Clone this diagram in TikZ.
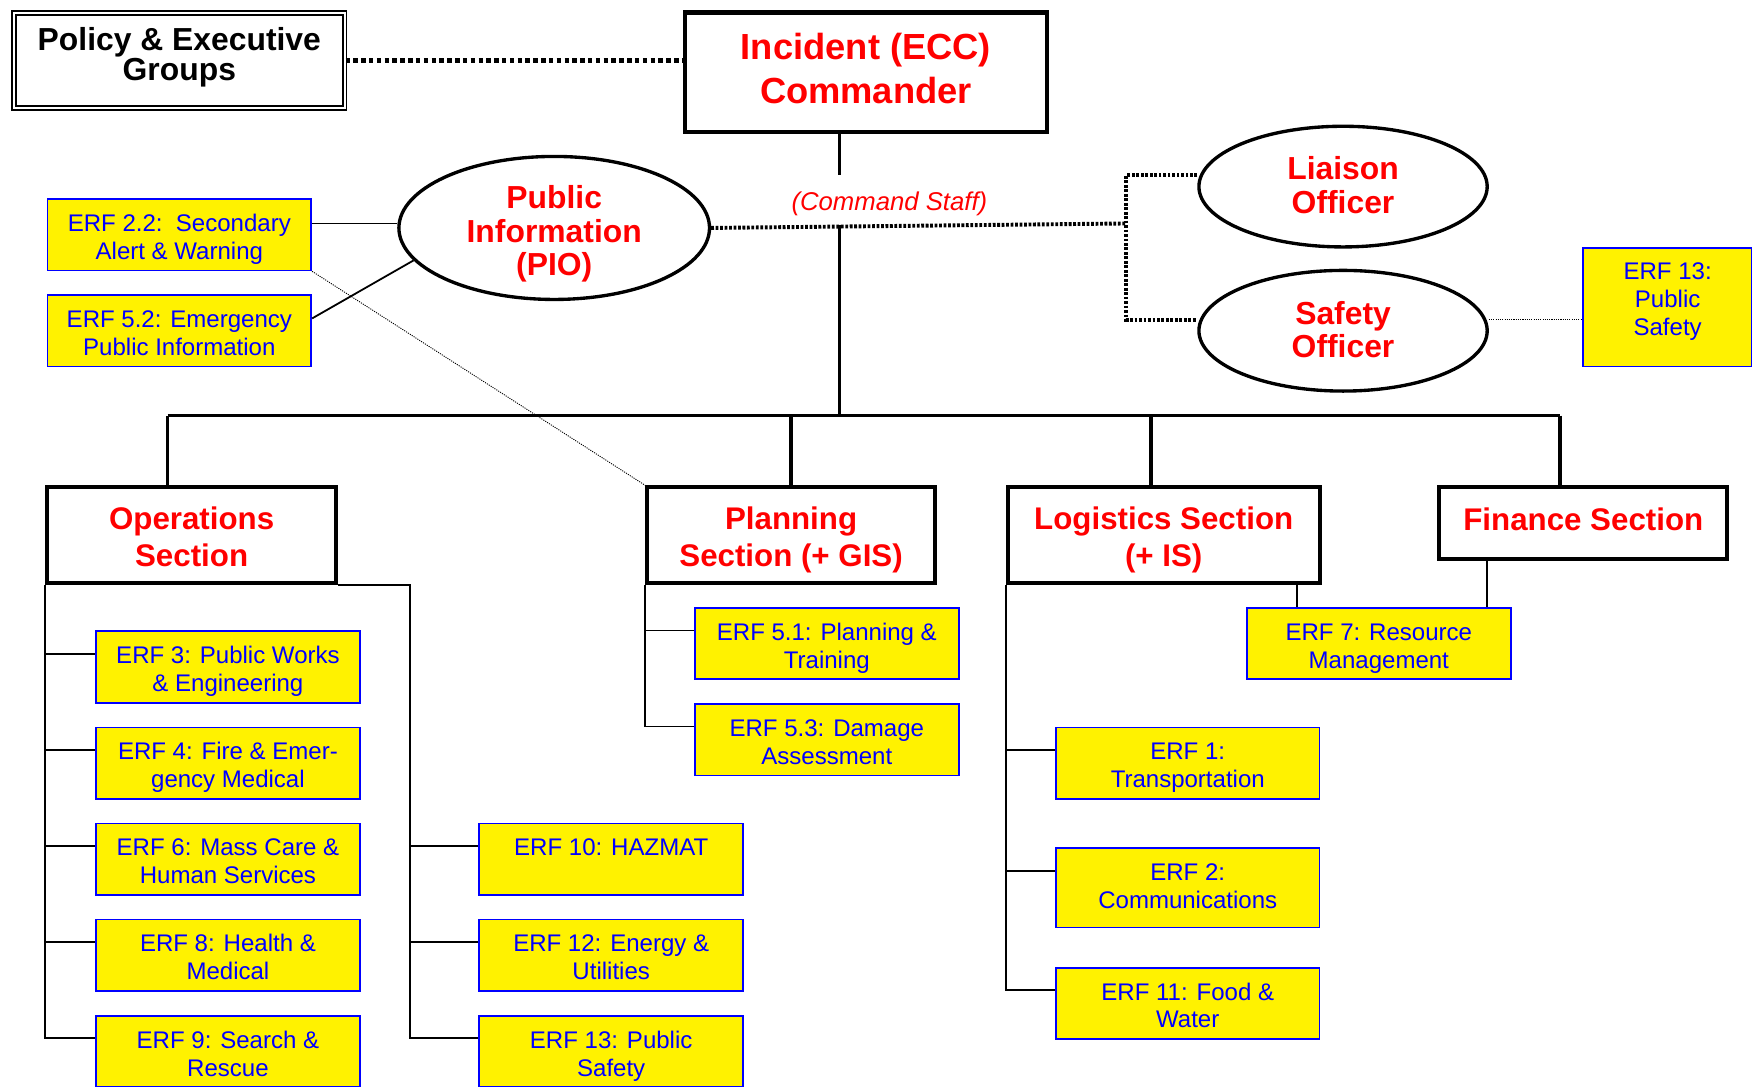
\documentclass[tikz,border=0pt]{standalone}
\usepackage{fontspec}
\setmainfont{Liberation Sans}
\usetikzlibrary{shapes.geometric,calc}
\definecolor{erfblue}{RGB}{0,0,255}
\definecolor{hdrred}{RGB}{255,0,0}
\begin{document}
\begin{tikzpicture}[x=1pt,y=-1pt,
  erf/.style={draw=erfblue, line width=1.6pt, fill=yellow, text=erfblue,
    minimum width=236pt, minimum height=64pt, inner sep=0pt, align=center,
    text height=44pt, text depth=0pt,
    font=\fontsize{21.5}{25}\selectfont},
  section/.style={draw, line width=3.5pt, text=hdrred, inner sep=0pt, align=center,
    text height=56pt, text depth=0pt,
    font=\bfseries\fontsize{28}{33}\selectfont},
  staff/.style={ellipse, draw, line width=3pt, text=hdrred, inner sep=0pt, align=center,
    text depth=0pt, font=\bfseries\fontsize{28.5}{30}\selectfont},
  link/.style={line width=1.6pt},
  bus/.style={line width=3pt},
  staffdots/.style={line width=3.5pt, dash pattern=on 2.5pt off 1.5pt},
  faint/.style={line width=0.8pt, dash pattern=on 1pt off 1pt},
]
\useasboundingbox (0,0) rectangle (1568,972);
\clip (0,0) rectangle (1568,972);
\fill[white] (0,0) rectangle (1568,972);

% top level
\node[draw, double, double distance=2pt, line width=1.5pt, minimum width=296pt,
  minimum height=85pt, inner sep=0pt, align=center, text height=36pt, text depth=0pt,
  font=\bfseries\fontsize{28.5}{27}\selectfont] (policy) at (160.5,54)
  {Policy \& Executive\\Groups};
\node[draw, line width=4pt, minimum width=324pt, minimum height=107pt, inner sep=0pt,
  text=hdrred, align=center, text height=56pt, text depth=0pt,
  font=\bfseries\fontsize{32.5}{39}\selectfont]
  (cmd) at (775,64.5) {Incident (ECC)\\Commander};

% command staff
\node[staff, minimum width=278pt, minimum height=128pt, text height=86pt] (pio) at (496,204) {Public\\Information\\(PIO)};
\node[staff, minimum width=258pt, minimum height=108pt, text height=48pt] (liaison) at (1202,167) {Liaison\\Officer};
\node[staff, minimum width=258pt, minimum height=108pt, text height=48pt] (safety) at (1202,296) {Safety\\Officer};
\node[text=hdrred, font=\itshape\fontsize{23}{27}\selectfont] (cstaff) at (796,182) {(Command Staff)};

% general staff sections
\node[section, minimum width=259pt, minimum height=86pt] (ops) at (171.5,479) {Operations\\Section};
\node[section, minimum width=258pt, minimum height=86pt] (plan) at (708,479) {Planning\\Section (+ GIS)};
\node[section, minimum width=279pt, minimum height=86pt] (logi) at (1041.5,479) {Logistics Section\\(+ IS)};
\node[section, minimum width=258pt, minimum height=64pt, text height=14pt] (fin) at (1417,468) {Finance Section};

% emergency response functions
\node[erf] (e22) at (160.5,210) {ERF 2.2:\ \ Secondary\\Alert \& Warning};
\node[erf] (e52) at (160.5,296) {ERF 5.2: Emergency\\Public Information};
\node[erf, minimum width=151pt, minimum height=106pt, text height=51pt] (e13s) at (1492.5,275) {ERF 13:\\Public\\Safety};
\node[erf] (e3) at (204,597) {ERF 3: Public Works\\\& Engineering};
\node[erf] (e4) at (204,683) {ERF 4: Fire \& Emer-\\gency Medical};
\node[erf] (e6) at (204,769) {ERF 6: Mass Care \&\\Human Services};
\node[erf] (e8) at (204,855) {ERF 8: Health \&\\Medical};
\node[erf] (e9) at (204,941) {ERF 9: Search \&\\Rescue};
\node[erf] (e10) at (547,769) {ERF 10: HAZMAT\\\strut};
\node[erf] (e12) at (547,855) {ERF 12: Energy \&\\Utilities};
\node[erf] (e13) at (547,941) {ERF 13: Public\\Safety};
\node[erf] (e51) at (740,576) {ERF 5.1: Planning \&\\Training};
\node[erf] (e53) at (740,662) {ERF 5.3: Damage\\Assessment};
\node[erf] (e1) at (1063,683) {ERF 1:\\Transportation};
\node[erf, minimum height=71pt, text height=37pt] (e2) at (1063,794.5) {ERF 2:\\Communications};
\node[erf] (e11) at (1063,898) {ERF 11: Food \&\\Water};
\node[erf] (e7) at (1234,576) {ERF 7: Resource\\Management};

% policy link
\draw[line width=4.5pt, dash pattern=on 4pt off 3pt] (policy.east) -- (policy.east -| cmd.west);

% command trunk and bus
\coordinate (trunk) at (751,372);
\coordinate (staffjoin) at (751,201);
\draw[line width=2.5pt] (trunk |- cmd.south) -- ++(0,37);
\draw[line width=2.5pt] (staffjoin) -- (trunk);
\coordinate (busL) at (150,372);
\coordinate (busR) at (1396,372);
\coordinate (busLog) at (1030,372);
\draw[bus] (busL) -- (busR);
\draw[bus] (busL) -- (busL |- ops.north);
\draw[bus] (trunk -| plan.north) -- (plan.north);
\draw[bus] (busLog) -- (busLog |- logi.north);
\draw[bus] (busR) -- (busR |- fin.north);

% command staff dotted links
\coordinate (staffR) at (1008,200);
\coordinate (liaisonTurn) at (1008,157);
\coordinate (safetyTurn) at (1008,286);
\draw[staffdots] (pio.east) -- (staffR);
\draw[staffdots] (liaison.west |- liaisonTurn) -- (liaisonTurn) -- (safetyTurn) -- (safetyTurn -| safety.west);
\draw[faint] ([yshift=10pt]safety.east) -- ([yshift=10pt]safety.east -| e13s.west);

% public information links
\draw[link] ([yshift=10pt]e22.east) -- ([yshift=10pt]e22.east -| pio.west);
\draw[link] ([yshift=11pt]e52.east) -- (pio.193);
\draw[faint] (e22.south east) -- (plan.north west);

% operations branches
\foreach \e in {e3,e4,e6,e8,e9}
  \draw[link] (ops.south west) |- ([yshift=-21pt]\e.north west);
\foreach \e in {e10,e12,e13}
  \draw[link] (ops.south east) -- ++(64,0) |- ([yshift=-21pt]\e.north west);

% planning branches
\foreach \e in {e51,e53}
  \draw[link] (plan.south west) |- ([yshift=-21pt]\e.north west);

% logistics branches
\foreach \e in {e1,e2,e11}
  \draw[link] (logi.south west) |- ([yshift=-21pt]\e.north west);

% resource management, shared by logistics and finance
\path ($(logi.south east)+(-22,0)$) coordinate (l7);
\path ($(fin.south)+(-86,0)$) coordinate (f7);
\draw[link] (l7) -- (l7 |- e7.north);
\draw[link] (f7) -- (f7 |- e7.north);
\end{tikzpicture}
\end{document}
